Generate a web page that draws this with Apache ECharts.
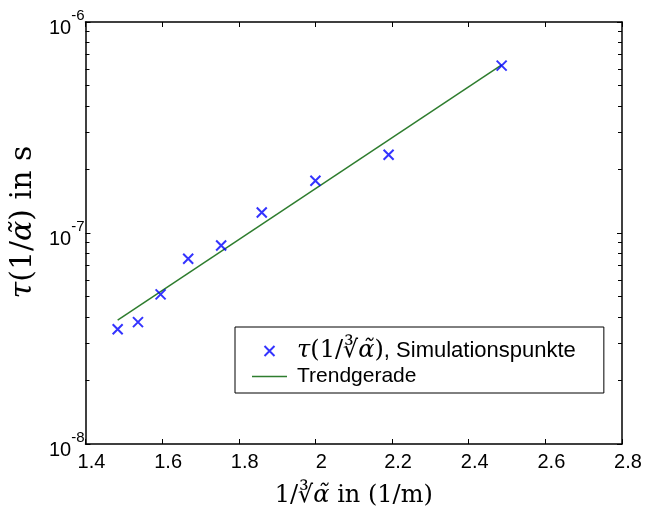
<!DOCTYPE html>
<html>
<head>
<meta charset="utf-8">
<script src="https://cdn.jsdelivr.net/npm/echarts@6/dist/echarts.min.js"></script>
<style>
html,body{margin:0;padding:0;background:#fff;}
#c{width:647px;height:513px;}
</style>
</head>
<body>
<div id="c"></div>
<script>
// data
const simX = [1.484, 1.537, 1.596, 1.668, 1.754, 1.860, 2.000, 2.191, 2.486];
const simY = [3.50e-8, 3.78e-8, 5.12e-8, 7.55e-8, 8.73e-8, 1.25e-7, 1.77e-7, 2.35e-7, 6.21e-7];
const trendX = [1.484, 2.486];
const trendY = [3.86e-8, 6.27e-7];
const xTickValues = [1.4, 1.6, 1.8, 2.0, 2.2, 2.4, 2.6, 2.8];
const yMajorTicks = [1e-8, 1e-7, 1e-6];
const yMinorTicks = [2e-8,3e-8,4e-8,5e-8,6e-8,7e-8,8e-8,9e-8,2e-7,3e-7,4e-7,5e-7,6e-7,7e-7,8e-7,9e-7];
const simName = 'τ(1/∛α̃), Simulationspunkte';
const trendName = 'Trendgerade';

const sans = '"Liberation Sans", Arial, sans-serif';
const serif = '"DejaVu Serif", "Liberation Serif", serif';

const chart = echarts.init(document.getElementById('c'), null, {renderer: 'canvas'});

const baseY = {
  type: 'log', logBase: 10, min: 1e-8, max: 1e-6,
  splitLine: {show: false}, minorTick: {show: false},
  axisLine: {show: true, lineStyle: {color: '#000', width: 1.5}}
};
const baseX = {
  type: 'value', min: 1.4, max: 2.8, interval: 0.2,
  splitLine: {show: false},
  axisLine: {show: true, onZero: false, lineStyle: {color: '#000', width: 1.5}}
};

chart.setOption({
  animation: false,
  backgroundColor: '#fff',
  grid: {left: 85, right: 25, top: 22, bottom: 63, containLabel: false},
  xAxis: [
    Object.assign({}, baseX, {
      position: 'bottom',
      axisTick: {show: true, inside: true, length: 5, customValues: xTickValues, lineStyle: {color: '#000', width: 1}},
      axisLabel: {
        show: true, margin: 8, color: '#000', fontFamily: sans, fontSize: 20,
        padding: [0, 0, 0, 12],
        customValues: xTickValues,
        formatter: v => String(+(+v).toFixed(1))
      },
      name: '{a|1/∛}{i|α̃}{a| in (1/m)}',
      nameLocation: 'middle', nameGap: 40,
      nameTextStyle: {
        color: '#000',
        rich: {
          a: {fontFamily: serif, fontSize: 24, color: '#000'},
          i: {fontFamily: serif, fontStyle: 'italic', fontSize: 24, color: '#000'}
        }
      }
    }),
    Object.assign({}, baseX, {
      position: 'top',
      axisTick: {show: true, inside: true, length: 5, customValues: xTickValues, lineStyle: {color: '#000', width: 1}},
      axisLabel: {show: false}
    })
  ],
  yAxis: [
    Object.assign({}, baseY, {
      position: 'left',
      axisTick: {show: true, inside: true, length: 5, customValues: yMajorTicks, lineStyle: {color: '#000', width: 1}},
      axisLabel: {
        show: true, margin: 1, customValues: yMajorTicks,
        formatter: v => '{b|10}{e|' + Math.round(Math.log10(v)) + '}',
        rich: {
          b: {fontFamily: sans, fontSize: 20, color: '#000', lineHeight: 32, verticalAlign: 'bottom'},
          e: {fontFamily: sans, fontSize: 15, color: '#000', lineHeight: 32, verticalAlign: 'top', padding: [2, 0, 0, 0]}
        }
      },
      name: '{i|τ}{a|(1/}{i|α̃}{a|) in s}',
      nameLocation: 'middle', nameRotate: 90, nameGap: 46,
      nameTextStyle: {
        color: '#000',
        padding: [0, 0, 0, 22],
        rich: {
          a: {fontFamily: serif, fontSize: 30, color: '#000'},
          i: {fontFamily: serif, fontStyle: 'italic', fontSize: 30, color: '#000'}
        }
      }
    }),
    Object.assign({}, baseY, {
      position: 'right',
      axisTick: {show: true, inside: true, length: 5, customValues: yMajorTicks, lineStyle: {color: '#000', width: 1}},
      axisLabel: {show: false}
    }),
    Object.assign({}, baseY, {
      position: 'left',
      axisLine: {show: false},
      axisTick: {show: true, inside: true, length: 4, customValues: yMinorTicks, lineStyle: {color: '#000', width: 1}},
      axisLabel: {show: false}
    }),
    Object.assign({}, baseY, {
      position: 'right',
      axisLine: {show: false},
      axisTick: {show: true, inside: true, length: 4, customValues: yMinorTicks, lineStyle: {color: '#000', width: 1}},
      axisLabel: {show: false}
    })
  ],
  legend: {
    orient: 'vertical',
    left: 235, top: 327,
    padding: [12, 28, 6, 17],
    itemGap: 3,
    itemWidth: 35, itemHeight: 10,
    backgroundColor: '#fff',
    borderColor: '#000', borderWidth: 1,
    data: [
      {name: simName},
      {name: trendName, icon: 'path://M0,0H35V1.4H0Z'}
    ],
    formatter: function (name) {
      if (name === simName) {
        return '{i|τ}{m|(1/∛}{i|α̃}{m|)}{t|, Simulationspunkte}';
      }
      return '{r|Trendgerade}';
    },
    textStyle: {
      color: '#000',
      padding: [0, 0, 0, 5],
      rich: {
        i: {fontFamily: serif, fontStyle: 'italic', fontSize: 24, color: '#000', lineHeight: 28},
        m: {fontFamily: serif, fontSize: 24, color: '#000', lineHeight: 28},
        t: {fontFamily: sans, fontSize: 22, color: '#000', lineHeight: 28},
        r: {fontFamily: sans, fontSize: 21, color: '#000', lineHeight: 22}
      }
    }
  },
  series: [
    {
      name: simName,
      type: 'scatter',
      xAxisIndex: 0, yAxisIndex: 0,
      data: simX.map((x, i) => [x, simY[i]]),
      symbol: 'path://M0,0L10,10M0,10L10,0',
      symbolSize: 10,
      symbolKeepAspect: true,
      itemStyle: {color: 'rgba(0,0,0,0)', borderColor: '#0000ff', borderWidth: 2},
      z: 3
    },
    {
      name: trendName,
      type: 'line',
      xAxisIndex: 0, yAxisIndex: 0,
      data: trendX.map((x, i) => [x, trendY[i]]),
      showSymbol: false, symbol: 'none',
      lineStyle: {color: '#2e7d2e', width: 1.5},
      itemStyle: {color: '#2e7d2e'},
      z: 2
    }
  ]
});
</script>
</body>
</html>
